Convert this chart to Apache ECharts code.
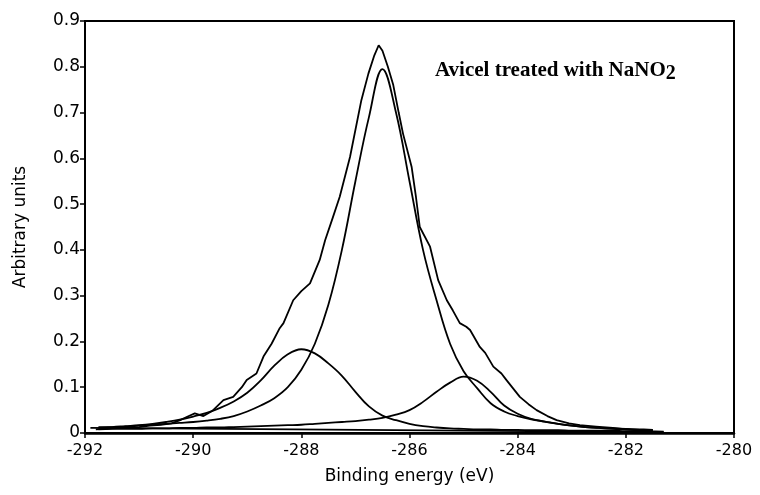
<!DOCTYPE html>
<html>
<head>
<meta charset="utf-8">
<script src="https://cdn.jsdelivr.net/npm/echarts@6/dist/echarts.min.js"></script>
<style>html,body{margin:0;padding:0;background:#fff;}#c{width:760px;height:495px;}</style>
</head>
<body>
<div id="c"></div>
<script>
// ---- data ----
const xTickLabels = ['-292', '-290', '-288', '-286', '-284', '-282', '-280'];
const yTickLabels = ['0', '0.1', '0.2', '0.3', '0.4', '0.5', '0.6', '0.7', '0.8', '0.9'];

// measured envelope (noisy)
const envEnergy = [-291.8, -291.5, -291.2, -291.0, -290.8, -290.6, -290.4, -290.24, -290.1, -289.97, -289.81, -289.65, -289.44, -289.26, -289.1, -289.01, -288.83, -288.7, -288.55, -288.4, -288.33, -288.15, -288.0, -287.84, -287.66, -287.56, -287.42, -287.29, -287.1, -286.89, -286.76, -286.65, -286.57, -286.5, -286.4, -286.3, -286.2, -286.12, -285.96, -285.88, -285.81, -285.62, -285.47, -285.31, -285.2, -285.07, -284.95, -284.88, -284.7, -284.6, -284.45, -284.3, -284.21, -283.96, -283.8, -283.65, -283.45, -283.28, -283.05, -282.85, -282.55, -282.24, -281.9, -281.61, -281.3];
const envelope = [0.008, 0.010, 0.012, 0.013, 0.016, 0.018, 0.021, 0.028, 0.036, 0.043, 0.037, 0.048, 0.072, 0.079, 0.100, 0.116, 0.130, 0.167, 0.195, 0.229, 0.240, 0.290, 0.310, 0.327, 0.378, 0.421, 0.470, 0.516, 0.603, 0.727, 0.785, 0.825, 0.847, 0.835, 0.800, 0.760, 0.700, 0.654, 0.581, 0.515, 0.450, 0.407, 0.334, 0.290, 0.268, 0.240, 0.232, 0.225, 0.188, 0.175, 0.145, 0.130, 0.116, 0.079, 0.063, 0.050, 0.037, 0.028, 0.021, 0.017, 0.014, 0.011, 0.007, 0.004, 0.003];

// fitted components on a common energy grid
const fitEnergy = [-291.75, -291.5, -291.25, -291.0, -290.75, -290.5, -290.25, -290.0, -289.75, -289.5, -289.25, -289.0, -288.75, -288.5, -288.25, -288.0, -287.75, -287.5, -287.25, -287.0, -286.75, -286.5, -286.25, -286.0, -285.75, -285.5, -285.25, -285.0, -284.75, -284.5, -284.25, -284.0, -283.75, -283.5, -283.25, -283.0, -282.75, -282.5, -282.25, -282.0, -281.75, -281.5];
const mainPeak = [0.012, 0.013, 0.014, 0.016, 0.018, 0.020, 0.022, 0.024, 0.027, 0.031, 0.037, 0.047, 0.060, 0.076, 0.100, 0.138, 0.195, 0.280, 0.400, 0.550, 0.690, 0.795, 0.700, 0.550, 0.400, 0.290, 0.195, 0.135, 0.098, 0.065, 0.047, 0.037, 0.030, 0.025, 0.020, 0.016, 0.013, 0.011, 0.009, 0.008, 0.007, 0.006];
const peak288 = [0.012, 0.013, 0.015, 0.017, 0.020, 0.024, 0.029, 0.036, 0.044, 0.055, 0.069, 0.088, 0.115, 0.147, 0.172, 0.183, 0.174, 0.152, 0.125, 0.090, 0.058, 0.038, 0.028, 0.020, 0.015, 0.012, 0.010, 0.009, 0.008, 0.008, 0.007, 0.007, 0.006, 0.006, 0.006, 0.005, 0.005, 0.005, 0.005, 0.004, 0.004, 0.004];
const peak285 = [0.008, 0.009, 0.009, 0.009, 0.010, 0.010, 0.011, 0.011, 0.012, 0.012, 0.013, 0.014, 0.015, 0.016, 0.017, 0.018, 0.020, 0.022, 0.024, 0.026, 0.029, 0.033, 0.040, 0.050, 0.068, 0.090, 0.110, 0.123, 0.114, 0.090, 0.060, 0.042, 0.031, 0.025, 0.020, 0.016, 0.013, 0.011, 0.010, 0.009, 0.008, 0.007];

const baselineEnergy = [-291.9, -281.3];
const baseline = [0.011, 0.002];

const titleMain = 'Avicel treated with NaNO';
const titleSub = '2';

// ---- chart ----
function pairs(xs, ys) { return xs.map((x, i) => [x, ys[i]]); }
const lineStyle = { color: '#000', width: 1.8 };
function mk(name, xs, ys, smooth) {
  return { name, type: 'line', data: pairs(xs, ys), showSymbol: false, symbol: 'none',
    smooth: smooth, lineStyle, silent: true, animation: false };
}

const chart = echarts.init(document.getElementById('c'), null, { renderer: 'canvas' });
chart.setOption({
  animation: false,
  backgroundColor: '#fff',
  title: {
    left: 435, top: 60, padding: 0,
    text: '{a|' + titleMain + '}{b|' + titleSub + '}',
    textStyle: {
      rich: {
        a: { fontFamily: 'Liberation Serif', fontWeight: 'bold', fontSize: 21, color: '#000', lineHeight: 22, verticalAlign: 'top' },
        b: { fontFamily: 'Liberation Serif', fontWeight: 'bold', fontSize: 20, color: '#000', lineHeight: 22, verticalAlign: 'top', padding: [4, 0, 0, 0] }
      }
    }
  },
  grid: { left: 85, right: 26, top: 21, bottom: 62, show: true, borderColor: '#000', borderWidth: 2, backgroundColor: 'transparent' },
  xAxis: {
    type: 'value', min: -292, max: -280, interval: 2,
    name: 'Binding energy (eV)', nameLocation: 'middle', nameGap: 35,
    nameTextStyle: { fontFamily: 'DejaVu Sans', fontSize: 17, color: '#000' },
    axisLine: { show: true, lineStyle: { color: '#000', width: 2.5 } },
    axisTick: { show: true, length: 5, lineStyle: { color: '#000', width: 1.5 } },
    axisLabel: { color: '#000', fontFamily: 'DejaVu Sans', fontSize: 16, margin: 10,
      formatter: v => xTickLabels[Math.round((v + 292) / 2)] },
    splitLine: { show: false }
  },
  yAxis: {
    type: 'value', min: 0, max: 0.9, interval: 0.1,
    name: 'Arbitrary units', nameLocation: 'middle', nameGap: 56,
    nameTextStyle: { fontFamily: 'DejaVu Sans', fontSize: 17, color: '#000' },
    axisLine: { show: true, lineStyle: { color: '#000', width: 2 } },
    axisTick: { show: true, length: 5, lineStyle: { color: '#000', width: 1.5 } },
    axisLabel: { color: '#000', fontFamily: 'DejaVu Sans', fontSize: 17, margin: 5,
      formatter: v => yTickLabels[Math.round(v * 10)] },
    splitLine: { show: false }
  },
  series: [
    mk('baseline', baselineEnergy, baseline, false),
    mk('peak285', fitEnergy, peak285, 0.4),
    mk('peak288', fitEnergy, peak288, 0.4),
    mk('main', fitEnergy, mainPeak, 0.4),
    mk('envelope', envEnergy, envelope, false)
  ]
});
</script>
</body>
</html>
